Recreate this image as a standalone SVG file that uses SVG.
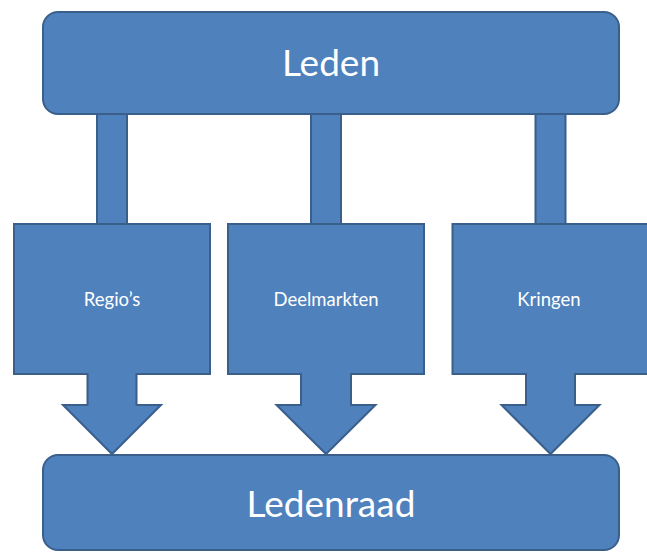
<svg xmlns="http://www.w3.org/2000/svg" width="647" height="553" viewBox="0 0 647 553">
  <style>
    .shape { fill: #4F81BD; stroke: #3A5F8B; stroke-width: 2; stroke-linejoin: miter; }
    .big { font-family: Lato, "Open Sans", "Liberation Sans", sans-serif; font-size: 37px; fill: #FFFFFF; text-anchor: middle; }
    .small { font-family: Lato, "Open Sans", "Liberation Sans", sans-serif; font-size: 18.5px; fill: #FFFFFF; text-anchor: middle; }
  </style>
  <rect width="647" height="553" fill="#FFFFFF"/>

  <!-- vertical bars linking the members box to the three groups -->
  <g id="connectors">
    <rect class="shape" x="97" y="112" width="30" height="114"/>
    <rect class="shape" x="311" y="112" width="30" height="114"/>
    <rect class="shape" x="535.5" y="112" width="30" height="114"/>
  </g>

  <g id="leden">
    <rect class="shape" x="43" y="12" width="576" height="102" rx="15" ry="15"/>
    <text class="big" x="331" y="76">Leden</text>
  </g>

  <!-- down-arrow callouts: box, narrow neck, triangular head -->
  <g id="regios">
    <path class="shape" d="M14,224 H210 V374 H136.5 V405 H161 L112,454 L63,405 H87.5 V374 H14 Z"/>
    <text class="small" x="112" y="306">Regio’s</text>
  </g>

  <g id="deelmarkten">
    <path class="shape" d="M228,224 H424 V374 H351 V405 H375.5 L326,454 L276.5,405 H301 V374 H228 Z"/>
    <text class="small" x="326" y="306">Deelmarkten</text>
  </g>

  <g id="kringen">
    <path class="shape" d="M452.5,224 H648.5 V374 H575 V405 H599.5 L550.5,454 L501.5,405 H526 V374 H452.5 Z"/>
    <text class="small" x="549" y="306">Kringen</text>
  </g>

  <g id="ledenraad">
    <rect class="shape" x="43" y="455" width="576" height="95" rx="15" ry="15"/>
    <text class="big" x="331" y="517">Ledenraad</text>
  </g>
</svg>
